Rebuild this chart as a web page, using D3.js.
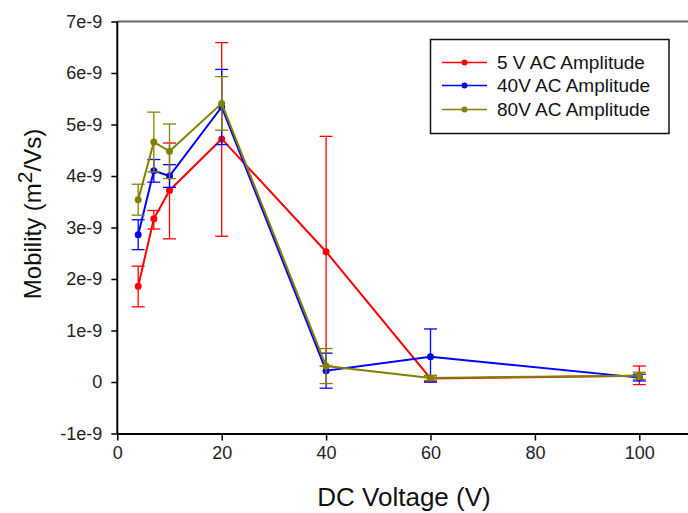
<!DOCTYPE html>
<html><head><meta charset="utf-8">
<script src="https://cdn.jsdelivr.net/npm/d3@7"></script>
<style>
html,body{margin:0;padding:0;background:#fff;}
text{font-family:"Liberation Sans",Arial,sans-serif;}
</style></head>
<body>
<svg id="c" width="688" height="513"></svg>
<script>
const voltages = [4, 7, 10, 20, 40, 60, 100];
const seriesNames = ["5 V AC Amplitude", "40V AC Amplitude", "80V AC Amplitude"];
const seriesColors = ["#ff0000", "#0000ff", "#808000"];
// values in units of 1e-9 m^2/Vs
const mean5 = [1.86, 3.17, 3.72, 4.72, 2.53, 0.07, 0.12];
const hi5   = [2.25, 3.33, 4.64, 6.59, 4.77, 0.12, 0.31];
const lo5   = [1.46, 2.97, 2.78, 2.83, 0.31, 0.00, -0.05];
const mean40 = [2.86, 4.10, 4.00, 5.34, 0.22, 0.49, 0.085];
const hi40   = [3.15, 4.32, 4.22, 6.07, 0.56, 1.03, 0.15];
const lo40   = [2.57, 3.88, 3.78, 4.61, -0.12, 0.00, 0.02];
const mean80 = [3.54, 4.66, 4.48, 5.41, 0.31, 0.08, 0.12];
const hi80   = [3.84, 5.24, 5.01, 5.93, 0.65, 0.13, 0.19];
const lo80   = [3.24, 4.08, 3.95, 4.89, -0.03, 0.03, 0.05];
const xTicks = [0, 20, 40, 60, 80, 100];
const yTicks = [-1, 0, 1, 2, 3, 4, 5, 6, 7];
const yTickLabels = ["-1e-9", "0", "1e-9", "2e-9", "3e-9", "4e-9", "5e-9", "6e-9", "7e-9"];

const series = [
  {name: seriesNames[0], color: seriesColors[0], mean: mean5, hi: hi5, lo: lo5},
  {name: seriesNames[1], color: seriesColors[1], mean: mean40, hi: hi40, lo: lo40},
  {name: seriesNames[2], color: seriesColors[2], mean: mean80, hi: hi80, lo: lo80}
];

const svg = d3.select("#c");
const L = 117.3, B = 433.5, T = 21.5;
const x = d3.scaleLinear().domain([0, 110]).range([L, L + 110 * 5.22]);
const y = d3.scaleLinear().domain([-1, 7]).range([B, T]);

// top frame line
svg.append("line").attr("x1", L).attr("x2", 688).attr("y1", T).attr("y2", T)
  .attr("stroke", "#666").attr("stroke-width", 2);

// axes
const xAxis = d3.axisBottom(x).tickValues(xTicks).tickSize(7).tickPadding(6).tickFormat(d3.format("d"));
const gx = svg.append("g").attr("transform", `translate(0,${B})`).call(xAxis);
gx.select(".domain").attr("d", `M${L},0.5H688`).attr("stroke", "#000").attr("stroke-width", 2);
gx.selectAll(".tick line").attr("stroke", "#000").attr("stroke-width", 1.5);
gx.selectAll(".tick text").attr("font-size", 18).attr("fill", "#222")
  .attr("font-family", "Liberation Sans, Arial, sans-serif");

const yAxis = d3.axisLeft(y).tickValues(yTicks).tickSize(6).tickPadding(9)
  .tickFormat((d, i) => yTickLabels[yTicks.indexOf(d)]);
const gy = svg.append("g").attr("transform", `translate(${L},0)`).call(yAxis);
gy.select(".domain").attr("d", `M0,${T}V${B}`).attr("stroke", "#000").attr("stroke-width", 2);
gy.selectAll(".tick line").attr("stroke", "#000").attr("stroke-width", 1.5);
gy.selectAll(".tick text").attr("font-size", 18).attr("fill", "#222")
  .attr("font-family", "Liberation Sans, Arial, sans-serif");

// axis titles
svg.append("text").attr("x", 404).attr("y", 506).attr("text-anchor", "middle")
  .attr("font-size", 26).attr("fill", "#111").text("DC Voltage (V)");
const yl = svg.append("text").attr("transform", "translate(41,214) rotate(-90)")
  .attr("text-anchor", "middle").attr("font-size", 24).attr("fill", "#111");
yl.append("tspan").text("Mobility (m");
yl.append("tspan").attr("dy", -9).attr("font-size", 21).text("2");
yl.append("tspan").attr("dy", 9).text("/Vs)");

// data
const line = d3.line().x(d => x(d[0])).y(d => y(d[1]));
series.forEach(s => {
  const g = svg.append("g");
  const pts = voltages.map((v, i) => [v, s.mean[i], s.hi[i], s.lo[i]]);
  // error bars
  pts.forEach(p => {
    g.append("line").attr("x1", x(p[0])).attr("x2", x(p[0])).attr("y1", y(p[2])).attr("y2", y(p[3]))
      .attr("stroke", s.color).attr("stroke-width", 1.3);
    [p[2], p[3]].forEach(v => {
      g.append("line").attr("x1", x(p[0]) - 6.5).attr("x2", x(p[0]) + 6.5).attr("y1", y(v)).attr("y2", y(v))
        .attr("stroke", s.color).attr("stroke-width", 1.3);
    });
  });
  g.append("path").datum(pts).attr("d", line).attr("fill", "none")
    .attr("stroke", s.color).attr("stroke-width", 2);
  g.selectAll("circle").data(pts).enter().append("circle")
    .attr("cx", d => x(d[0])).attr("cy", d => y(d[1])).attr("r", 3.5).attr("fill", s.color);
});

// legend
const lg = svg.append("g");
lg.append("rect").attr("x", 430.5).attr("y", 39.5).attr("width", 238.5).attr("height", 94)
  .attr("fill", "#fff").attr("stroke", "#111").attr("stroke-width", 1.5);
const rowY = [62.5, 85.5, 109.5];
series.forEach((s, i) => {
  lg.append("line").attr("x1", 442).attr("x2", 487).attr("y1", rowY[i]).attr("y2", rowY[i])
    .attr("stroke", s.color).attr("stroke-width", 1.5);
  lg.append("circle").attr("cx", 464.5).attr("cy", rowY[i]).attr("r", 3).attr("fill", s.color);
  lg.append("text").attr("x", 497).attr("y", rowY[i] + 6.5).attr("font-size", 19)
    .attr("fill", "#111").text(s.name);
});
</script>
</body></html>
